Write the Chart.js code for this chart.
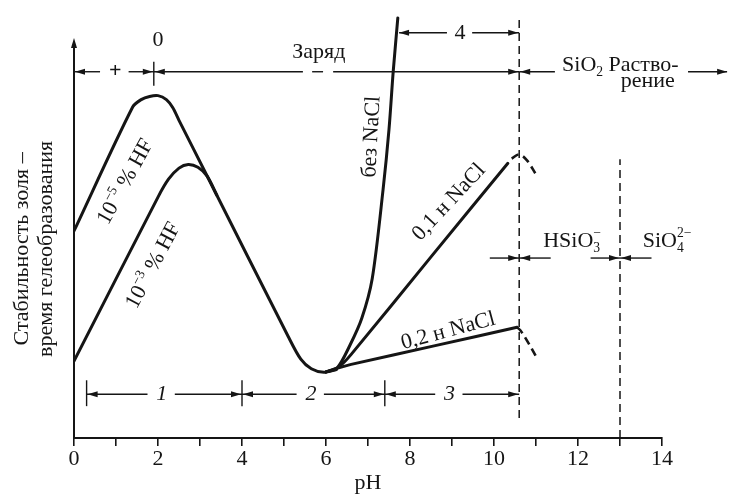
<!doctype html>
<html lang="ru">
<head>
<meta charset="UTF-8" />
<title>Стабильность золя и pH</title>
<script src="https://cdn.jsdelivr.net/npm/chart.js"></script>
<style>
  html, body { margin: 0; padding: 0; background: #fff; }
  .chart-container { position: relative; width: 730px; height: 494px; }
</style>
</head>
<body>
<div class="chart-container"><canvas id="silicaChart"></canvas></div>
<script>
// curves: [pH, relative stability]
const hf5Curve = [[0, 5.2], [1.4, 8.32], [1.6, 8.5], [1.8, 8.58], [2.0, 8.6], [2.2, 8.5], [2.35, 8.3], [2.5, 7.98], [3.17, 6.58], [5.1, 2.55], [5.4, 1.98], [5.65, 1.74], [5.95, 1.65], [6.25, 1.72]];
const hf3Curve = [[0, 1.93], [2.0, 6.05], [2.25, 6.5], [2.5, 6.78], [2.72, 6.87], [2.95, 6.8], [3.17, 6.58], [3.4, 6.1]];
const noSaltCurve = [[6.0, 1.66], [6.26, 1.75], [6.57, 2.33], [6.85, 3.0], [7.1, 4.0], [7.36, 6.25], [7.5, 7.75], [7.6, 9.2], [7.71, 10.55]];
const nacl01Curve = [[6.0, 1.66], [6.3, 1.78], [6.6, 2.1], [8.5, 4.55], [10.33, 6.9]];
const nacl02Curve = [[6.0, 1.66], [6.3, 1.76], [6.6, 1.85], [8.6, 2.32], [10.55, 2.78]];
const nacl01Cap = [[10.42, 7.02], [10.6, 7.12], [10.78, 6.98], [11.0, 6.62]];
const nacl02Cap = [[10.55, 2.78], [10.63, 2.7], [10.8, 2.42], [11.0, 2.05]];

// boundaries and zones on the pH axis
const dissolveStart = 10.6;
const ionBoundary = 13;
const chargeZero = 1.9;
const zoneEdges = [0.3, 4, 7.4, 10.6];
const zoneNames = ['1', '2', '3'];
const xTickLabels = [0, 2, 4, 6, 8, 10, 12, 14];

const fontFamily = '"Liberation Serif", "DejaVu Serif", serif';
const ink = '#151515';
const textSize = 22;
const font = (size, style) => (style ? style + ' ' : '') + size + 'px ' + fontFamily;

function measureRich(ctx, parts, size) {
  let w = 0;
  parts.forEach(p => {
    if (p.stack) {
      ctx.font = font(size * 0.62);
      w += Math.max(ctx.measureText(p.stack[0]).width, ctx.measureText(p.stack[1]).width);
    } else {
      ctx.font = font(p.sub || p.sup ? size * 0.62 : size, p.style);
      w += ctx.measureText(p.t).width;
    }
  });
  return w;
}

// draws text with sub/superscripts, y is the vertical middle
function drawRich(ctx, parts, x, y, size, align) {
  const w = measureRich(ctx, parts, size);
  let cx = align === 'center' ? x - w / 2 : (align === 'right' ? x - w : x);
  const base = y + size * 0.33;
  ctx.textAlign = 'left';
  ctx.textBaseline = 'alphabetic';
  parts.forEach(p => {
    if (p.stack) {
      const s = size * 0.62;
      ctx.font = font(s);
      ctx.fillText(p.stack[0], cx, base + size * 0.22);
      ctx.fillText(p.stack[1], cx, base - size * 0.45);
      cx += Math.max(ctx.measureText(p.stack[0]).width, ctx.measureText(p.stack[1]).width);
    } else if (p.sub || p.sup) {
      ctx.font = font(size * 0.62);
      ctx.fillText(p.t, cx, base + (p.sub ? size * 0.22 : -size * 0.42));
      cx += ctx.measureText(p.t).width;
    } else {
      ctx.font = font(size, p.style);
      ctx.fillText(p.t, cx, base);
      cx += ctx.measureText(p.t).width;
    }
  });
}

function arrowHead(ctx, x, y, dir) {
  const len = 10, half = 3;
  ctx.beginPath();
  ctx.moveTo(x, y);
  if (dir === 'right') { ctx.lineTo(x - len, y - half); ctx.lineTo(x - len, y + half); }
  else if (dir === 'left') { ctx.lineTo(x + len, y - half); ctx.lineTo(x + len, y + half); }
  else { ctx.lineTo(x - half, y + len); ctx.lineTo(x + half, y + len); }
  ctx.closePath();
  ctx.fill();
}

function line(ctx, x1, y1, x2, y2, w) {
  ctx.lineWidth = w || 1.4;
  ctx.beginPath();
  ctx.moveTo(x1, y1);
  ctx.lineTo(x2, y2);
  ctx.stroke();
}

const annotations = {
  id: 'annotations',
  afterDatasetsDraw(chart) {
    const ctx = chart.ctx;
    const X = v => chart.scales.x.getPixelForValue(v);
    const Y = v => chart.scales.y.getPixelForValue(v);
    const area = chart.chartArea;
    ctx.save();
    ctx.strokeStyle = ink;
    ctx.fillStyle = ink;

    // y axis with arrow
    line(ctx, X(0), Y(0), X(0), Y(9.8), 2);
    arrowHead(ctx, X(0), Y(10.05), 'up');

    // y axis title
    ctx.save();
    ctx.translate(area.left - 52, Y(4.75));
    ctx.rotate(-Math.PI / 2);
    ctx.textAlign = 'center';
    ctx.textBaseline = 'middle';
    ctx.font = font(textSize);
    ctx.fillText('Стабильность золя –', 0, 0);
    ctx.fillText('время гелеобразования', 0, 24);
    ctx.restore();

    // charge line
    const cy = Y(9.2);
    arrowHead(ctx, X(0) + 1, cy, 'left');
    line(ctx, X(0), cy, X(0.62), cy);
    ctx.font = font(22, 'bold');
    ctx.textAlign = 'center';
    ctx.textBaseline = 'middle';
    ctx.fillText('+', X(0.98), cy);
    line(ctx, X(1.3), cy, X(chargeZero), cy);
    arrowHead(ctx, X(chargeZero) - 1, cy, 'right');
    line(ctx, X(chargeZero), Y(9.45), X(chargeZero), Y(8.85));
    arrowHead(ctx, X(chargeZero) + 1, cy, 'left');
    line(ctx, X(chargeZero), cy, X(5.45), cy);
    line(ctx, X(5.67), cy, X(5.93), cy);
    line(ctx, X(6.17), cy, X(dissolveStart), cy);
    arrowHead(ctx, X(dissolveStart) - 1, cy, 'right');
    ctx.font = font(textSize);
    ctx.fillText('0', X(2.0), Y(10.0));
    ctx.textBaseline = 'alphabetic';
    ctx.fillText('Заряд', X(5.83), Y(9.55));
    ctx.textBaseline = 'middle';

    // dissolution arrow
    arrowHead(ctx, X(dissolveStart) + 1, cy, 'left');
    line(ctx, X(dissolveStart), cy, X(11.45), cy);
    drawRich(ctx, [{t: 'SiO'}, {t: '2', sub: true}, {t: ' Раство-'}], X(11.62), Y(9.4), textSize, 'left');
    ctx.font = font(textSize);
    ctx.textAlign = 'center';
    ctx.textBaseline = 'middle';
    ctx.fillText('рение', X(13.66), Y(8.95));
    line(ctx, X(14.62), cy, X(15.55), cy);
    arrowHead(ctx, X(15.55), cy, 'right');

    // region 4 bracket
    const fy = Y(10.18);
    arrowHead(ctx, X(7.74), fy, 'left');
    line(ctx, X(7.74), fy, X(8.88), fy);
    ctx.fillText('4', X(9.19), fy);
    line(ctx, X(9.48), fy, X(dissolveStart), fy);
    arrowHead(ctx, X(dissolveStart) - 1, fy, 'right');

    // zone brackets 1-3
    const zy = Y(1.1);
    zoneEdges.slice(0, 3).forEach(e => line(ctx, X(e), Y(1.45), X(e), Y(0.8)));
    zoneNames.forEach((name, i) => {
      const a = zoneEdges[i], b = zoneEdges[i + 1], mid = (a + b) / 2;
      arrowHead(ctx, X(a) + 1, zy, 'left');
      line(ctx, X(a), zy, X(mid - 0.4), zy);
      line(ctx, X(mid + 0.25), zy, X(b), zy);
      arrowHead(ctx, X(b) - 1, zy, 'right');
      ctx.font = font(textSize, 'italic');
      ctx.fillText(name, X(mid - 0.06), zy);
    });

    // ion form brackets
    const iy = Y(4.52);
    [dissolveStart, ionBoundary].forEach(b => {
      line(ctx, X(b - 0.7), iy, X(b), iy);
      arrowHead(ctx, X(b) - 1, iy, 'right');
      line(ctx, X(b), iy, X(b + 0.75), iy);
      arrowHead(ctx, X(b) + 1, iy, 'left');
    });
    drawRich(ctx, [{t: 'HSiO'}, {stack: ['3', '−']}], X(11.86), Y(4.98), textSize, 'center');
    drawRich(ctx, [{t: 'SiO'}, {stack: ['4', '2−']}], X(14.12), Y(4.98), textSize, 'center');

    // rotated curve labels
    const tilted = (parts, px, py, deg) => {
      ctx.save();
      ctx.translate(X(px), Y(py));
      ctx.rotate(deg * Math.PI / 180);
      drawRich(ctx, parts, 0, 0, textSize, 'center');
      ctx.restore();
    };
    tilted([{t: '10'}, {t: '−5', sup: true}, {t: ' % HF'}], 1.2, 6.45, -61);
    tilted([{t: '10'}, {t: '−3', sup: true}, {t: ' % HF'}], 1.86, 4.35, -62);
    tilted([{t: 'без NaCl'}], 7.05, 7.57, -87);
    tilted([{t: '0,1 н NaCl'}], 8.9, 5.95, -47);
    tilted([{t: '0,2 н NaCl'}], 8.9, 2.72, -15);

    ctx.restore();
  }
};

const toPoints = pts => pts.map(([x, y]) => ({x, y}));
const solid = (pts, tension) => ({
  data: toPoints(pts), borderColor: ink, borderWidth: 3, pointRadius: 0,
  tension: tension, borderCapStyle: 'round', borderJoinStyle: 'round'
});
const dashed = (pts, w) => ({
  data: toPoints(pts), borderColor: ink, borderWidth: w, pointRadius: 0,
  borderDash: [8, 5], tension: 0.35
});

new Chart(document.getElementById('silicaChart'), {
  type: 'line',
  data: {
    datasets: [
      solid(hf5Curve, 0.3),
      solid(hf3Curve, 0.3),
      solid(noSaltCurve, 0.3),
      solid(nacl01Curve, 0.2),
      solid(nacl02Curve, 0.2),
      dashed(nacl01Cap, 2.6),
      dashed(nacl02Cap, 2.6),
      Object.assign(dashed([[dissolveStart, 0.5], [dissolveStart, 10.6]], 1.5), {tension: 0}),
      Object.assign(dashed([[ionBoundary, 0], [ionBoundary, 7.0]], 1.5), {tension: 0})
    ]
  },
  options: {
    responsive: true,
    maintainAspectRatio: false,
    animation: false,
    events: [],
    layout: { padding: { left: 74, right: 68, top: 16, bottom: 0 } },
    plugins: { legend: { display: false }, tooltip: { enabled: false } },
    scales: {
      x: {
        type: 'linear', min: 0, max: 14,
        ticks: {
          stepSize: 1, autoSkip: false, maxRotation: 0, color: ink, padding: 2,
          font: { family: fontFamily, size: textSize, lineHeight: 1 },
          callback: v => xTickLabels.includes(v) ? String(v) : ''
        },
        grid: { drawOnChartArea: false, drawTicks: true, tickLength: 8, color: ink, lineWidth: 1.6 },
        border: { display: true, color: ink, width: 2 },
        title: { display: true, text: 'pH', color: ink, font: { family: fontFamily, size: textSize, lineHeight: 1 }, padding: { top: 0, bottom: 0 } }
      },
      y: { type: 'linear', min: 0, max: 10.6, display: false }
    }
  },
  plugins: [annotations]
});
</script>
</body>
</html>
